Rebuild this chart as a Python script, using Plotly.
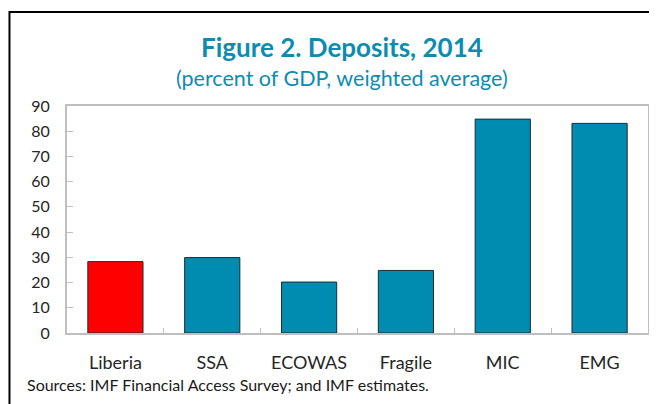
import plotly.graph_objects as go

# data
categories = ["Liberia", "SSA", "ECOWAS", "Fragile", "MIC", "EMG"]
deposits = [28.3, 29.9, 20.2, 24.8, 84.8, 83.1]
bar_colors = ["#ff0000", "#008bb0", "#008bb0", "#008bb0", "#008bb0", "#008bb0"]
y_ticks = [0, 10, 20, 30, 40, 50, 60, 70, 80, 90]

title_text = "<b>Figure 2. Deposits, 2014</b>"
subtitle_text = "(percent of GDP, weighted average)"
source_text = "Sources: IMF Financial Access Survey; and IMF estimates."

teal = "#0b8cb3"
grey = "#bfbfbf"
font = "Lato"

fig = go.Figure(go.Bar(
    x=categories, y=deposits,
    marker=dict(color=bar_colors, line=dict(color="#1c2c36", width=1)),
    width=0.57,
))

# page has an 8px body margin, so the figure is sized 8px smaller
fig.update_layout(
    width=649, height=396,
    margin=dict(l=59, r=7, t=98, b=71),
    paper_bgcolor="white", plot_bgcolor="white",
    showlegend=False,
    font=dict(family=font, size=16, color="#262626"),
    xaxis=dict(
        showline=True, linecolor=grey, linewidth=2, mirror=True,
        ticks="inside", tickson="boundaries", ticklen=5, tickcolor=grey,
        tickfont=dict(size=18), ticklabelstandoff=12,
        showgrid=False,
    ),
    yaxis=dict(
        range=[0, 90], tickvals=y_ticks,
        showline=True, linecolor=grey, linewidth=2, mirror=True,
        ticks="inside", ticklen=6, tickcolor=grey,
        tickfont=dict(size=16), ticklabelstandoff=12,
        showgrid=False, zeroline=False,
    ),
)

# title, subtitle and source note
fig.add_annotation(text=title_text, xref="paper", yref="paper", x=0.473, y=1.26,
                   yanchor="middle", showarrow=False,
                   font=dict(family=font, size=26, color=teal))
fig.add_annotation(text=subtitle_text, xref="paper", yref="paper", x=0.473, y=1.123,
                   yanchor="middle", showarrow=False,
                   font=dict(family=font, size=21.5, color=teal))
fig.add_annotation(text=source_text, xref="paper", yref="paper", x=-0.072, y=-0.229,
                   xanchor="left", yanchor="middle", showarrow=False,
                   font=dict(family=font, size=16, color="#1a1a1a"))

# black frame around the whole chart (right and bottom run off the page)
fig.add_shape(type="rect", xref="paper", yref="paper",
              x0=-0.099, x1=1.05, y0=-0.45, y1=1.414,
              line=dict(color="black", width=2), layer="below")

fig.write_html("out.html")
